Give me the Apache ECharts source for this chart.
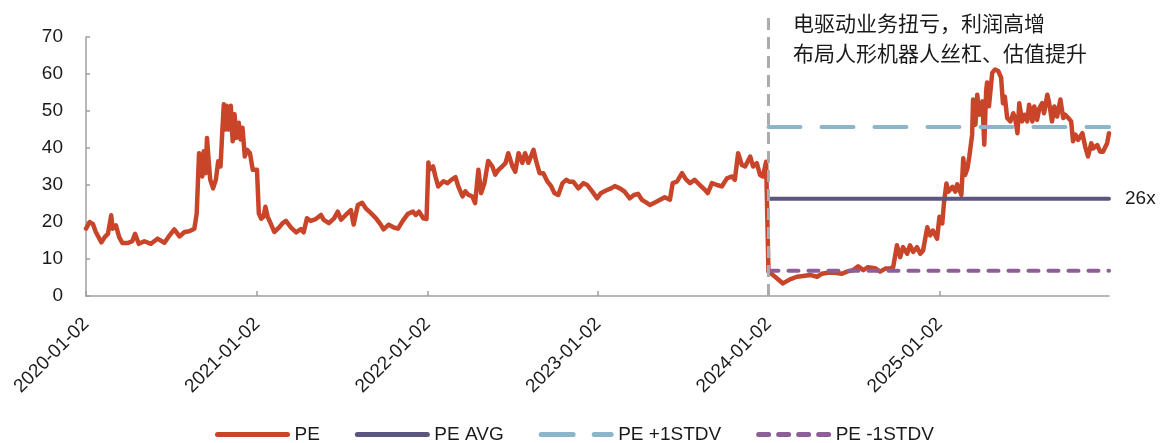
<!DOCTYPE html>
<html>
<head>
<meta charset="utf-8">
<title>PE Band</title>
<script src="https://cdn.jsdelivr.net/npm/echarts@6/dist/echarts.min.js"></script>
<style>
  html, body { margin: 0; padding: 0; background: #ffffff; }
  #chart { width: 1160px; height: 443px; }
</style>
</head>
<body>
<div id="chart"></div>
<script>
// Trailing PE history
const peDates = [
  '2020-01-02','2020-01-10','2020-01-17','2020-01-23','2020-02-04','2020-02-11','2020-02-18','2020-02-25','2020-02-28','2020-03-06',
  '2020-03-13','2020-03-20','2020-03-31','2020-04-10','2020-04-16','2020-04-24','2020-05-06','2020-05-20','2020-06-03','2020-06-18',
  '2020-06-29','2020-07-09','2020-07-20','2020-07-31','2020-08-10','2020-08-21','2020-08-26','2020-08-31','2020-09-03','2020-09-07',
  '2020-09-10','2020-09-14','2020-09-17','2020-09-21','2020-09-24','2020-09-30','2020-10-06','2020-10-11','2020-10-16','2020-10-20',
  '2020-10-23','2020-10-26','2020-10-29','2020-11-02','2020-11-07','2020-11-11','2020-11-15','2020-11-19','2020-11-24','2020-11-28',
  '2020-12-02','2020-12-07','2020-12-12','2020-12-18','2020-12-24','2021-01-02','2021-01-06','2021-01-11','2021-01-16','2021-01-20',
  '2021-01-25','2021-01-30','2021-02-08','2021-02-19','2021-02-26','2021-03-05','2021-03-16','2021-03-27','2021-04-06','2021-04-12',
  '2021-04-19','2021-04-27','2021-05-08','2021-05-19','2021-05-25','2021-06-05','2021-06-16','2021-06-24','2021-07-01','2021-07-11',
  '2021-07-22','2021-07-28','2021-08-06','2021-08-15','2021-08-23','2021-09-03','2021-09-14','2021-09-24','2021-09-30','2021-10-11',
  '2021-10-22','2021-10-31','2021-11-10','2021-11-21','2021-12-02','2021-12-08','2021-12-15','2021-12-24','2021-12-31','2022-01-04',
  '2022-01-06','2022-01-14','2022-01-19','2022-01-25','2022-02-05','2022-02-14','2022-02-22','2022-03-03','2022-03-09','2022-03-18',
  '2022-03-24','2022-03-30','2022-04-08','2022-04-14','2022-04-21','2022-04-27','2022-05-04','2022-05-12','2022-05-21','2022-05-27',
  '2022-06-03','2022-06-11','2022-06-18','2022-06-24','2022-07-03','2022-07-09','2022-07-16','2022-07-24','2022-07-30','2022-08-06',
  '2022-08-17','2022-08-23','2022-08-30','2022-09-07','2022-09-16','2022-09-24','2022-10-01','2022-10-09','2022-10-18','2022-10-26',
  '2022-11-02','2022-11-10','2022-11-21','2022-12-02','2022-12-10','2022-12-21','2022-12-31','2023-01-08','2023-01-19','2023-01-30',
  '2023-02-07','2023-02-18','2023-02-28','2023-03-11','2023-03-20','2023-03-29','2023-04-06','2023-04-15','2023-04-23','2023-05-04',
  '2023-05-15','2023-05-25','2023-06-05','2023-06-11','2023-06-20','2023-07-01','2023-07-09','2023-07-18','2023-07-28','2023-08-08',
  '2023-08-19','2023-08-25','2023-09-03','2023-09-14','2023-09-24','2023-10-05','2023-10-16','2023-10-22','2023-10-29','2023-11-06',
  '2023-11-13','2023-11-24','2023-11-30','2023-12-08','2023-12-15','2023-12-21','2023-12-28','2024-01-02','2024-01-05','2024-01-20',
  '2024-02-02','2024-02-17','2024-03-03','2024-03-16','2024-03-31','2024-04-15','2024-04-25','2024-05-08','2024-05-23','2024-06-07',
  '2024-06-18','2024-07-01','2024-07-12','2024-07-23','2024-08-02','2024-08-17','2024-08-28','2024-09-08','2024-09-18','2024-09-25',
  '2024-10-03','2024-10-10','2024-10-16','2024-10-25','2024-10-31','2024-11-07','2024-11-15','2024-11-22','2024-11-28','2024-12-07',
  '2024-12-13','2024-12-19','2024-12-28','2025-01-02','2025-01-08','2025-01-12','2025-01-17','2025-01-21','2025-01-30','2025-02-05',
  '2025-02-09','2025-02-18','2025-02-22','2025-02-26','2025-03-03','2025-03-07','2025-03-13','2025-03-15','2025-03-20','2025-03-24',
  '2025-03-28','2025-04-04','2025-04-08','2025-04-12','2025-04-14','2025-04-18','2025-04-25','2025-05-01','2025-05-08','2025-05-14',
  '2025-05-18','2025-05-22','2025-05-27','2025-06-03','2025-06-09','2025-06-13','2025-06-18','2025-06-22','2025-06-28','2025-07-03',
  '2025-07-09','2025-07-13','2025-07-20','2025-07-24','2025-07-30','2025-08-04','2025-08-10','2025-08-14','2025-08-21','2025-08-25',
  '2025-08-31','2025-09-05','2025-09-11','2025-09-18','2025-09-24','2025-09-28','2025-10-05','2025-10-11','2025-10-15','2025-10-20',
  '2025-10-26','2025-11-04','2025-11-10','2025-11-16','2025-11-23','2025-11-27','2025-12-06','2025-12-12','2025-12-18','2025-12-27',
  '2025-12-31'
];
const peValues = [
  18.2, 20.0, 19.4, 17.3, 14.5, 15.9, 16.8, 21.8, 18.2, 19.1,
  15.9, 14.3, 14.3, 14.8, 16.8, 14.1, 14.8, 14.1, 15.5, 14.4,
  16.4, 18.0, 16.1, 17.3, 17.5, 18.2, 22.3, 38.6, 37.7, 32.3,
  39.1, 33.2, 42.7, 35.9, 31.4, 29.1, 31.4, 36.4, 35.0, 45.0,
  51.8, 45.0, 51.4, 45.0, 51.4, 41.8, 49.1, 42.7, 46.8, 42.3,
  45.5, 37.7, 39.5, 38.6, 34.1, 34.1, 22.3, 20.9, 21.4, 24.1,
  21.4, 20.0, 17.3, 18.6, 19.7, 20.3, 18.5, 17.2, 18.1, 17.2,
  21.0, 20.3, 20.8, 21.9, 20.6, 19.7, 21.0, 22.8, 20.6, 21.9,
  23.2, 19.3, 24.6, 25.2, 23.7, 22.4, 21.0, 19.3, 18.0, 19.3,
  18.5, 18.2, 20.3, 22.2, 22.8, 21.9, 22.8, 21.0, 20.8, 36.1,
  34.1, 35.0, 32.3, 29.6, 31.0, 30.5, 31.4, 32.1, 29.6, 26.9,
  28.3, 27.4, 26.9, 25.1, 34.1, 27.8, 30.5, 36.5, 35.0, 32.8,
  34.1, 35.0, 35.9, 38.6, 35.0, 33.6, 38.6, 36.0, 38.6, 36.0,
  39.5, 36.3, 33.2, 33.2, 30.9, 29.6, 27.8, 27.3, 30.5, 31.4,
  30.9, 30.9, 29.1, 30.5, 30.0, 28.2, 26.4, 27.8, 28.5, 29.1,
  29.7, 29.1, 28.2, 26.4, 27.3, 27.6, 26.0, 25.3, 24.6, 25.3,
  26.0, 26.7, 26.0, 30.5, 30.9, 33.2, 31.6, 30.5, 31.4, 30.0,
  28.7, 27.8, 30.5, 30.0, 29.6, 31.8, 32.3, 31.4, 38.6, 35.4,
  35.0, 37.7, 35.0, 35.9, 32.7, 32.3, 36.3, 6.6, 6.2, 4.8,
  3.4, 4.5, 5.2, 5.4, 5.7, 5.2, 6.0, 6.3, 6.3, 6.0,
  6.6, 7.0, 8.0, 7.0, 7.8, 7.5, 6.6, 7.4, 7.4, 7.8,
  13.7, 10.5, 13.2, 11.4, 13.7, 11.9, 13.2, 11.4, 12.3, 18.6,
  16.4, 17.7, 15.5, 21.4, 19.6, 25.5, 30.4, 28.2, 29.5, 28.2,
  30.2, 27.3, 37.2, 32.7, 34.5, 37.7, 43.6, 53.1, 46.3, 54.4,
  49.0, 52.6, 40.9, 55.4, 57.7, 51.3, 60.3, 61.2, 60.8, 59.0,
  52.1, 53.9, 48.1, 47.2, 49.4, 48.1, 44.0, 52.1, 47.2, 49.0,
  47.2, 51.7, 47.2, 51.2, 47.6, 50.8, 52.1, 49.4, 54.4, 52.1,
  47.2, 51.2, 48.5, 53.1, 48.1, 49.0, 48.1, 47.2, 41.8, 43.6,
  42.2, 44.0, 40.4, 37.7, 41.3, 39.9, 40.8, 39.0, 39.0, 41.3,
  44.0
];

// Valuation band since the business turnaround
const bandStart = '2024-01-02';
const bandEnd = '2025-12-31';
const peAvg = 26.3;
const peUpper = 45.7;
const peLower = 6.8;

// Divider from the axis up into the annotation area
const dividerValues = [0, 76.3];

const yearTicks = ['2020-01-02', '2021-01-02', '2022-01-02', '2023-01-02', '2024-01-02', '2025-01-02'];
const annotationLines = ['电驱动业务扭亏，利润高增', '布局人形机器人丝杠、估值提升'];

const seriesNames = ['PE', 'PE AVG', 'PE +1STDV', 'PE -1STDV'];
const colors = { pe: '#C8452A', avg: '#5A5680', upper: '#8BB5CB', lower: '#8D5E97', divider: '#ABABAB' };

const FONT = '"Liberation Sans", Arial, "Noto Sans CJK SC", sans-serif';
const TEXT = '#1A1A1A';

function toTime(s) {
  const p = s.split('-').map(Number);
  return Date.UTC(p[0], p[1] - 1, p[2]);
}
function pad(n) { return (n < 10 ? '0' : '') + n; }
function fmtDate(t) {
  const d = new Date(t);
  return d.getUTCFullYear() + '-' + pad(d.getUTCMonth() + 1) + '-' + pad(d.getUTCDate());
}

const tickTimes = yearTicks.map(toTime);
const peData = peDates.map((d, i) => [toTime(d), peValues[i]]);
const flat = v => [[toTime(bandStart), v], [toTime(bandEnd), v]];

const chart = echarts.init(document.getElementById('chart'), null, { renderer: 'canvas' });

chart.setOption({
  animation: false,
  textStyle: { fontFamily: FONT },
  grid: { left: 86, right: 51, top: 37, bottom: 147 },
  xAxis: {
    type: 'value',
    min: toTime(peDates[0]),
    max: toTime(bandEnd),
    axisLine: { show: true, lineStyle: { color: '#A0A0A0', width: 1.5 } },
    axisTick: { show: true, inside: true, length: 5, customValues: tickTimes, lineStyle: { color: '#A0A0A0', width: 1.5 } },
    axisLabel: {
      customValues: tickTimes,
      rotate: 45,
      margin: 25,
      fontSize: 19,
      color: TEXT,
      fontFamily: FONT,
      formatter: v => fmtDate(v)
    },
    splitLine: { show: false }
  },
  yAxis: {
    type: 'value',
    min: 0,
    max: 70,
    interval: 10,
    axisLine: { show: true, lineStyle: { color: '#A0A0A0', width: 1.5 } },
    axisTick: { show: true, inside: true, length: 4, lineStyle: { color: '#A0A0A0', width: 1.5 } },
    axisLabel: { fontSize: 19, color: TEXT, margin: 23, fontFamily: FONT },
    splitLine: { show: false }
  },
  legend: {
    data: seriesNames,
    left: 210,
    top: 420,
    itemWidth: 70,
    itemHeight: 14,
    itemGap: 35,
    itemStyle: { opacity: 0 },
    lineStyle: { width: 5, cap: 'round' },
    textStyle: { fontSize: 19, color: TEXT, fontFamily: FONT, padding: [0, 0, 0, 2] }
  },
  graphic: [{
    type: 'text',
    left: 793,
    top: 8,
    style: {
      text: annotationLines.join('\n'),
      font: '21px "Noto Sans CJK SC", sans-serif',
      lineHeight: 30,
      fill: TEXT
    }
  }],
  series: [
    {
      name: 'PE',
      type: 'line',
      data: peData,
      symbol: 'none',
      sampling: false,
      lineStyle: { color: colors.pe, width: 4.5, join: 'round', cap: 'round' },
      itemStyle: { color: colors.pe },
      z: 2
    },
    {
      name: 'PE AVG',
      type: 'line',
      data: flat(peAvg),
      symbol: 'none',
      lineStyle: { color: colors.avg, width: 4, cap: 'round' },
      itemStyle: { color: colors.avg },
      endLabel: {
        show: true,
        formatter: p => Math.round(p.value[1]) + 'x',
        distance: 16,
        fontSize: 19,
        color: TEXT,
        fontFamily: FONT
      },
      z: 3
    },
    {
      name: 'PE +1STDV',
      type: 'line',
      data: flat(peUpper),
      symbol: 'none',
      lineStyle: { color: colors.upper, width: 4, type: [32, 21], cap: 'round' },
      itemStyle: { color: colors.upper },
      z: 3
    },
    {
      name: 'PE -1STDV',
      type: 'line',
      data: flat(peLower),
      symbol: 'none',
      lineStyle: { color: colors.lower, width: 4, type: [10, 10], cap: 'round' },
      itemStyle: { color: colors.lower },
      z: 3
    },
    {
      type: 'line',
      data: dividerValues.map(v => [toTime(bandStart), v]),
      symbol: 'none',
      clip: false,
      silent: true,
      lineStyle: { color: colors.divider, width: 3, type: [12, 7] },
      z: 4
    }
  ]
});
</script>
</body>
</html>
